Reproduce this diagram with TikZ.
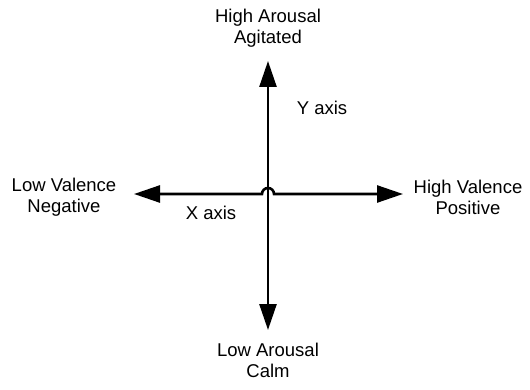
\documentclass[tikz,border=0pt]{standalone}
\usepackage{fontspec}
\setmainfont{Liberation Sans}
\usetikzlibrary{arrows.meta,calc}

\begin{document}
\begin{tikzpicture}[
    x=1pt, y=-1pt,
    line join=miter,
    >={Triangle[length=26pt, width=17pt]},
    %% --- styles ---
    axisline/.style = {<->, draw=black, line width=2.6pt},
    polelabel/.style = {align=center, inner sep=0pt,
                        font=\fontsize{18.5}{21}\selectfont},
    axislabel/.style = {inner sep=0pt, font=\fontsize{18.5}{21}\selectfont}
]
\useasboundingbox (0,0) rectangle (530,390);

%% centre and arrow tips
\coordinate (O)  at (268,194);
\coordinate (UP) at (268,61);
\coordinate (DN) at (268,330);
\coordinate (LT) at (134,194);
\coordinate (RT) at (403,194);

%% pole labels
\node[polelabel] (HA) at (268,28)  {High Arousal\\Agitated};
\node[polelabel] (LA) at (268,360) {Low Arousal\\Calm};
\node[polelabel] (LV) at (64,197)  {Low Valence\\Negative};
\node[polelabel] (HV) at (468,197) {High Valence\\Positive};

%% axes (x axis hops over y axis)
\draw[axisline] (DN) -- (UP);
\draw[axisline] (LT) -- ($(O)+(-6,0)$) arc (180:360:6) -- (RT);

\node[axislabel] (YA) at (322,108) {Y axis};
\node[axislabel] (XA) at (211,213) {X axis};

\end{tikzpicture}
\end{document}
